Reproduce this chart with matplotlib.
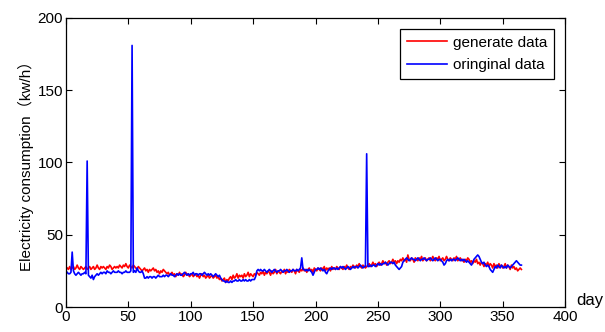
import numpy as np
import matplotlib

matplotlib.use("Agg")
import matplotlib.pyplot as plt

plt.rcParams["font.family"] = ["Liberation Sans", "Noto Sans CJK SC", "DejaVu Sans"]

# daily electricity consumption (kw/h), days 1..365
original = [
    24, 23, 23, 24, 38, 25, 23, 22, 23, 24,
    23, 22, 23, 23, 24, 23, 101, 22, 21, 20,
    22, 19, 21, 22, 23, 22, 23, 24, 23, 24,
    24, 23, 25, 24, 24, 23, 24, 25, 24, 24,
    24, 25, 24, 24, 23, 24, 24, 25, 24, 24,
    24, 25, 181, 24, 25, 24, 27, 25, 24, 24,
    25, 23, 20, 20, 21, 20, 21, 21, 20, 21,
    21, 20, 21, 22, 21, 21, 21, 22, 21, 22,
    22, 21, 22, 23, 22, 22, 21, 22, 23, 22,
    23, 22, 22, 23, 24, 23, 22, 23, 22, 23,
    23, 24, 22, 23, 23, 22, 23, 23, 22, 23,
    24, 23, 22, 23, 22, 23, 22, 21, 22, 23,
    22, 21, 22, 20, 19, 18, 18, 17, 18, 17,
    17, 18, 17, 18, 18, 19, 18, 18, 19, 18,
    18, 19, 18, 19, 18, 18, 19, 18, 19, 19,
    19, 21, 25, 26, 25, 26, 25, 25, 26, 25,
    24, 25, 26, 25, 24, 25, 26, 25, 24, 25,
    25, 26, 25, 24, 25, 25, 26, 25, 24, 25,
    25, 26, 25, 25, 26, 25, 26, 27, 34, 26,
    26, 25, 26, 25, 26, 25, 24, 22, 24, 26,
    26, 27, 26, 27, 26, 25, 26, 24, 23, 25,
    26, 27, 26, 27, 27, 26, 27, 26, 27, 28,
    27, 28, 27, 26, 27, 28, 27, 26, 27, 28,
    27, 28, 28, 27, 28, 29, 28, 27, 28, 28,
    106, 28, 28, 29, 28, 29, 29, 28, 29, 30,
    29, 30, 29, 30, 30, 31, 30, 29, 30, 31,
    31, 30, 31, 29, 28, 27, 26, 27, 28, 31,
    32, 33, 34, 33, 32, 33, 34, 33, 33, 32,
    33, 34, 33, 32, 33, 33, 34, 33, 32, 33,
    33, 34, 33, 32, 33, 34, 33, 32, 33, 33,
    32, 31, 29, 30, 32, 33, 32, 33, 32, 33,
    33, 32, 33, 34, 33, 32, 33, 32, 33, 32,
    31, 32, 31, 30, 29, 31, 33, 34, 35, 36,
    35, 33, 31, 30, 31, 29, 28, 29, 28, 26,
    25, 24, 26, 28, 27, 29, 28, 27, 29, 28,
    27, 28, 27, 29, 28, 27, 28, 29, 30, 31,
    32, 31, 30, 29, 29,
]

generated = [
    27, 26, 28, 26, 27, 28, 26, 27, 29, 27,
    26, 28, 27, 26, 27, 28, 26, 27, 28, 26,
    27, 28, 26, 27, 29, 27, 26, 28, 27, 28,
    27, 26, 28, 27, 29, 28, 26, 27, 28, 27,
    28, 27, 29, 28, 27, 29, 28, 30, 28, 27,
    29, 28, 27, 29, 28, 27, 26, 28, 27, 26,
    25, 26, 27, 25, 26, 24, 26, 25, 26, 27,
    25, 26, 24, 25, 23, 25, 24, 26, 25, 24,
    23, 24, 22, 23, 24, 22, 23, 21, 23, 22,
    24, 22, 23, 21, 22, 24, 22, 23, 21, 22,
    23, 21, 22, 23, 21, 22, 20, 22, 23, 21,
    22, 20, 21, 22, 20, 21, 22, 20, 21, 22,
    20, 21, 19, 20, 18, 19, 20, 17, 19, 18,
    20, 21, 19, 22, 20, 21, 23, 20, 22, 21,
    22, 20, 23, 21, 22, 24, 21, 23, 22, 21,
    23, 22, 24, 23, 22, 24, 23, 25, 22, 24,
    23, 25, 24, 22, 25, 23, 24, 26, 23, 25,
    24, 23, 25, 24, 26, 23, 25, 24, 26, 25,
    24, 26, 25, 23, 26, 25, 24, 26, 25, 27,
    25, 26, 24, 26, 27, 25, 26, 24, 27, 26,
    25, 27, 26, 25, 27, 26, 28, 25, 27, 26,
    27, 25, 28, 26, 27, 26, 28, 27, 26, 28,
    27, 26, 28, 27, 29, 27, 26, 28, 27, 29,
    28, 27, 29, 28, 30, 28, 27, 29, 28, 27,
    28, 29, 30, 28, 29, 31, 29, 30, 28, 30,
    31, 29, 30, 32, 30, 31, 29, 31, 32, 30,
    31, 33, 31, 32, 30, 32, 31, 33, 32, 34,
    32, 33, 31, 36, 33, 32, 34, 33, 31, 34,
    33, 32, 34, 33, 35, 32, 33, 34, 32, 33,
    34, 32, 33, 35, 33, 32, 34, 33, 35, 32,
    33, 34, 32, 33, 35, 33, 32, 34, 33, 32,
    34, 33, 35, 32, 33, 34, 32, 33, 31, 33,
    32, 34, 33, 31, 32, 30, 32, 31, 33, 30,
    31, 29, 31, 30, 28, 30, 29, 31, 28, 30,
    29, 27, 30, 28, 29, 27, 30, 28, 29, 27,
    28, 30, 27, 29, 28, 26, 29, 27, 28, 26,
    27, 25, 26, 27, 26,
]

days = np.arange(1, len(original) + 1)

fig = plt.figure(figsize=(6.05, 3.32), dpi=100)
ax = fig.add_axes([0.109, 0.0753, 0.825, 0.8705])

ax.plot(days, generated, color="#ff0000", lw=1.2, label="generate data")
ax.plot(days, original, color="#0000ff", lw=1.2, label="oringinal data")

ax.set_xlim(0, 400)
ax.set_ylim(0, 200)
ax.set_xticks(range(0, 401, 50))
ax.set_yticks(range(0, 201, 50))
ax.tick_params(direction="in", top=True, right=True, length=4, labelsize=11, pad=2)
for s in ax.spines.values():
    s.set_linewidth(0.9)

ax.set_ylabel("Electricity consumption（kw/h）", fontsize=11, labelpad=3)
fig.text(0.953, 0.096, "day", fontsize=12, ha="left", va="center")

leg = ax.legend(loc="upper right", fontsize=11, fancybox=False, framealpha=1,
                edgecolor="black", borderpad=0.45, handlelength=2.6,
                labelspacing=0.55, borderaxespad=0.7, handletextpad=0.4)
leg.get_frame().set_linewidth(0.9)

fig.savefig("out.png", dpi=100)
